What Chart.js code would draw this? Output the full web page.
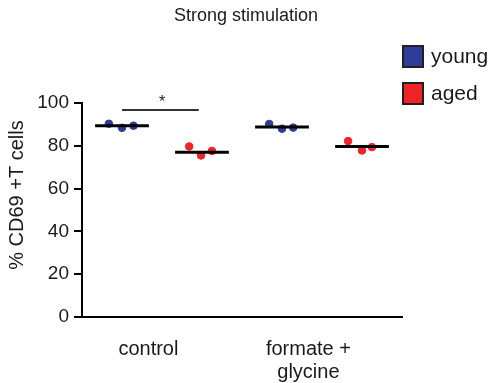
<!DOCTYPE html>
<html>
<head>
<meta charset="utf-8">
<script src="https://cdn.jsdelivr.net/npm/chart.js@4.4.1/dist/chart.umd.min.js"></script>
<style>
  html, body { margin: 0; padding: 0; background: #fff; }
  #wrap { width: 490px; height: 383px; position: relative; }
</style>
</head>
<body>
<div id="wrap"><canvas id="chart"></canvas></div>
<script>
// ---- data ----
const categories = ['control', ['formate +', 'glycine']];
const seriesNames = ['young', 'aged'];
const youngValues = [[90.3, 88.4, 89.4], [90.2, 88.0, 88.5]];
const agedValues = [[79.7, 75.5, 77.6], [82.2, 77.8, 79.4]];
const youngMeans = [89.4, 88.8];
const agedMeans = [77.0, 79.7];
// horizontal scatter of the dots inside a group (in category units)
const youngJitter = [[-0.082, 0, 0.072], [-0.08, 0, 0.07]];
const agedJitter = [[-0.08, -0.006, 0.062], [-0.087, 0, 0.062]];
const yTicks = [0, 20, 40, 60, 80, 100];
const sigLevel = 96.7;

const FONT = "'Liberation Sans', Arial, Helvetica, sans-serif";
const BLUE = '#2f3d98';
const RED = '#ee2428';
const groupOffset = 0.25;   // young left, aged right of category centre
const meanHalf = 0.168;

function dots(values, jitter, shift) {
    const pts = [];
    values.forEach((vals, i) => {
        vals.forEach((v, j) => pts.push({ x: i + shift + jitter[i][j], y: v }));
    });
    return pts;
}

function meanLine(mean, i, shift) {
    return {
        type: 'line',
        data: [{ x: i + shift - meanHalf, y: mean }, { x: i + shift + meanHalf, y: mean }],
        borderColor: '#000',
        borderWidth: 3,
        pointRadius: 0,
        order: 0
    };
}

const datasets = [
    { label: seriesNames[0], data: dots(youngValues, youngJitter, -groupOffset),
      backgroundColor: BLUE, borderColor: BLUE, pointRadius: 3.8, order: 1 },
    { label: seriesNames[1], data: dots(agedValues, agedJitter, groupOffset),
      backgroundColor: RED, borderColor: RED, pointRadius: 3.8, order: 1 }
];
youngMeans.forEach((m, i) => datasets.push(meanLine(m, i, -groupOffset)));
agedMeans.forEach((m, i) => datasets.push(meanLine(m, i, groupOffset)));
// significance bar between young and aged in control
datasets.push({
    type: 'line',
    data: [{ x: -groupOffset, y: sigLevel }, { x: groupOffset - 0.02, y: sigLevel }],
    borderColor: '#333', borderWidth: 2, pointRadius: 0, order: 0
});

// title, legend, y title, asterisk
const decorations = {
    id: 'decorations',
    afterDraw(chart) {
        const ctx = chart.ctx;
        const xs = chart.scales.x, ys = chart.scales.y;
        ctx.save();
        ctx.fillStyle = '#1a1a1a';
        ctx.textAlign = 'center';
        ctx.textBaseline = 'middle';
        ctx.font = '18px ' + FONT;
        ctx.fillText('Strong stimulation', 246, 16);

        // asterisk
        ctx.font = '16px ' + FONT;
        ctx.textBaseline = 'alphabetic';
        ctx.fillText('*', xs.getPixelForValue(0), ys.getPixelForValue(sigLevel) - 3);

        // y axis title
        ctx.save();
        ctx.translate(17, 195);
        ctx.rotate(-Math.PI / 2);
        ctx.textBaseline = 'middle';
        ctx.font = '20px ' + FONT;
        ctx.fillText('% CD69 +T cells', 0, 0);
        ctx.restore();

        // legend
        const colors = [BLUE, RED];
        ctx.textAlign = 'left';
        ctx.textBaseline = 'middle';
        ctx.font = '21px ' + FONT;
        seriesNames.forEach((name, i) => {
            const top = 46 + i * 37;
            ctx.fillStyle = colors[i];
            ctx.fillRect(403, top, 20, 21);
            ctx.strokeStyle = '#231f20';
            ctx.lineWidth = 2;
            ctx.strokeRect(403, top, 20, 21);
            ctx.fillStyle = '#1a1a1a';
            ctx.fillText(name, 431, top + 11);
        });
        ctx.restore();
    }
};

new Chart(document.getElementById('chart'), {
    type: 'scatter',
    data: { datasets },
    options: {
        responsive: true,
        maintainAspectRatio: false,
        animation: false,
        layout: { padding: { left: 0, top: 103, right: 88, bottom: 0 } },
        plugins: {
            legend: { display: false },
            tooltip: { enabled: false }
        },
        scales: {
            x: {
                type: 'linear',
                min: -0.5,
                max: 1.5,
                afterFit: s => { s.height = 66; },
                afterBuildTicks: s => { s.ticks = categories.map((c, i) => ({ value: i - 0.085 })); },
                ticks: {
                    color: '#1a1a1a',
                    font: { family: FONT, size: 20, lineHeight: 1.15 },
                    padding: 21,
                    maxRotation: 0,
                    autoSkip: false,
                    callback: v => categories[Math.round(v)]
                },
                grid: { display: false, drawTicks: false },
                border: { display: true, color: '#000', width: 2 }
            },
            y: {
                min: 0,
                max: 100,
                afterFit: s => { s.width = 82; },
                afterBuildTicks: s => { s.ticks = yTicks.map(v => ({ value: v })); },
                ticks: {
                    color: '#1a1a1a',
                    font: { family: FONT, size: 19 },
                    padding: 5
                },
                grid: { drawOnChartArea: false, drawTicks: true, tickLength: 8, color: '#000', lineWidth: 2 },
                border: { display: true, color: '#000', width: 2 }
            }
        }
    },
    plugins: [decorations]
});
</script>
</body>
</html>
